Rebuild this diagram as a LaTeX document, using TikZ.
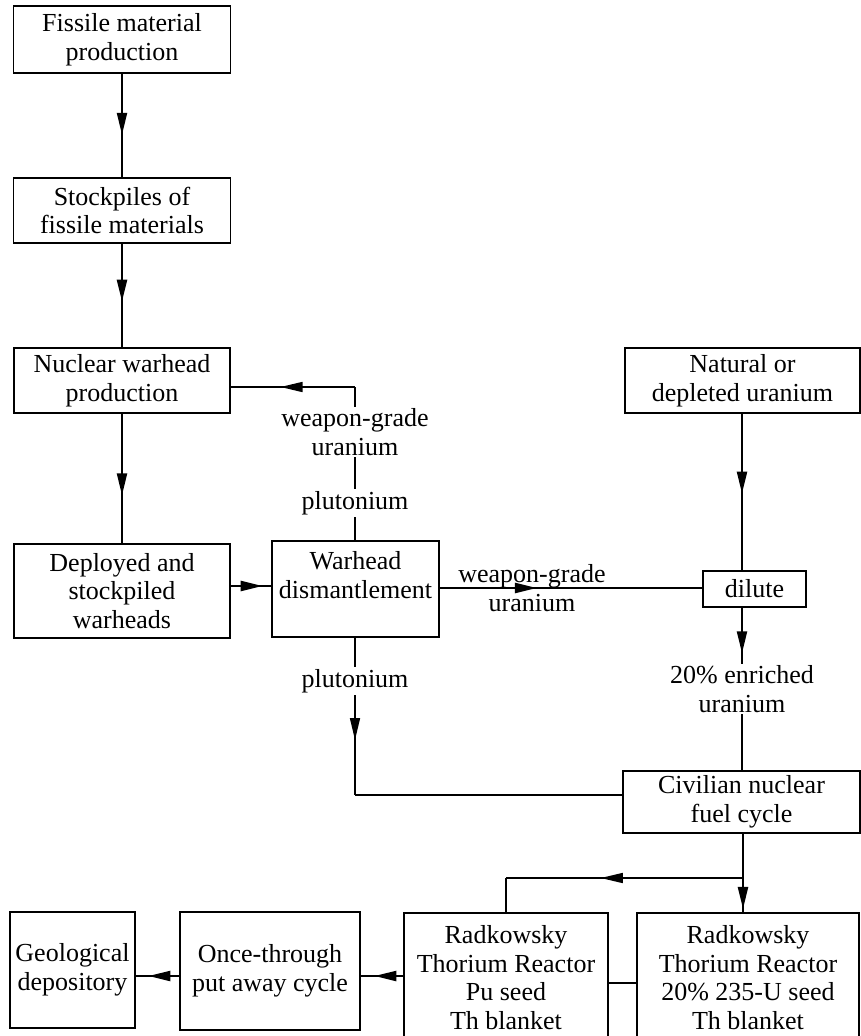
\documentclass[tikz,border=0pt]{standalone}
\usepackage{fontspec}
\setmainfont{Liberation Serif}
\usetikzlibrary{arrows.meta,decorations.markings}
\begin{document}
\begin{tikzpicture}[x=1pt,y=-1pt,
  box/.style={draw, line width=1.8pt, inner sep=0pt, align=center, font=\fontsize{26}{28.5}\selectfont},
  lbl/.style={inner sep=1.5pt, align=center, font=\fontsize{26}{28.5}\selectfont},
  flow/.style={line width=2.3pt},
  thinflow/.style={line width=1.6pt},
  tipat/.style={postaction={decorate}, decoration={markings, mark=at position #1 with {\arrow{Triangle[length=22pt,width=10pt]}}}}
]
\useasboundingbox (0,0) rectangle (861,1036);

% boxes
\node[box, minimum width=217pt, minimum height=67pt] (b1) at (122,39.5) {Fissile material\\production};
\node[box, minimum width=217pt, minimum height=65pt] (b2) at (122,210.5) {Stockpiles of\\fissile materials};
\node[box, minimum width=216pt, minimum height=65pt] (b3) at (122,380.5) {Nuclear warhead\\production};
\node[box, minimum width=216pt, minimum height=94pt] (b4) at (122,591) {Deployed and\\stockpiled\\warheads};
\node[box, minimum width=167pt, minimum height=96pt] (b5) at (355.5,589) {Warhead\\dismantlement\\\mbox{}};
\node[box, minimum width=235pt, minimum height=65pt] (nat) at (742.5,380.5) {Natural or\\depleted uranium};
\node[box, minimum width=103pt, minimum height=36pt] (dil) at (754.5,589) {dilute};
\node[box, minimum width=237pt, minimum height=62pt] (civ) at (741.5,802) {Civilian nuclear\\fuel cycle};
\node[box, minimum width=125pt, minimum height=116pt] (geo) at (72.5,970) {Geological\\depository};
\node[box, minimum width=180pt, minimum height=118pt] (once) at (270,971) {Once-through\\put away cycle};
\node[box, minimum width=204pt, minimum height=129pt] (r1) at (506,977.5) {Radkowsky\\Thorium Reactor\\Pu seed\\Th blanket};
\node[box, minimum width=222pt, minimum height=129pt] (r2) at (748,977.5) {Radkowsky\\Thorium Reactor\\20\% 235-U seed\\Th blanket};

% coordinates
\coordinate (fb) at (355,387);
\coordinate (pc) at (355,795);
\coordinate (br) at (743,878);
\coordinate (bl) at (506,878);

% main vertical flows
\draw[flow, tipat=0.59] (b1.south) -- (b2.north);
\draw[flow, tipat=0.56] (b2.south) -- (b3.north);
\draw[flow, tipat=0.63] (b3.south) -- (b4.north);
\draw[flow, tipat=0.79] (b4.east |- 0,586) -- (b5.west |- 0,586);

% feedback to warhead production
\draw[thinflow] (b5.north -| fb) -- (fb);
\draw[thinflow, tipat=0.6] (fb) -- (b3.east |- fb);

% weapon-grade uranium to dilute
\draw[flow, tipat=0.37] (b5.east |- 0,588) -- (dil.west |- 0,588);
\node[lbl] (wgu2) at (532,588) {weapon-grade\\uranium};

% natural to dilute
\draw[flow, tipat=0.51] (nat.south -| 742,0) -- (dil.north -| 742,0);

% dilute to civilian
\node[lbl] (enr) at (742,689) {20\% enriched\\uranium};
\draw[flow, tipat=0.81] (dil.south -| enr.north) -- (enr.north);
\draw[thinflow] (enr.south) -- (enr.south |- civ.north);

% plutonium to civilian
\draw[thinflow, tipat=0.65] (b5.south -| pc) -- (pc);
\draw[thinflow] (pc) -- (civ.west |- pc);

% labels on the vertical lines
\node[lbl, fill=white, inner sep=2pt] (wgu1) at (355,432) {weapon-grade\\uranium};
\node[lbl, fill=white, inner sep=2pt] (pu1) at (355,503) {plutonium};
\node[lbl, fill=white, inner sep=2pt] (pu2) at (355,681) {plutonium};

% civilian to reactors
\draw[flow, tipat=0.96] (civ.south -| br) -- (r2.north -| br);
\draw[thinflow, tipat=0.6] (br) -- (bl);
\draw[thinflow] (bl) -- (r1.north -| bl);

% bottom row
\draw[line width=2.8pt] (r2.west |- 0,983) -- (r1.east |- 0,983);
\draw[flow, tipat=0.68] (r1.west |- 0,976) -- (once.east |- 0,976);
\draw[flow, tipat=0.71] (once.west |- 0,976) -- (geo.east |- 0,976);
\end{tikzpicture}
\end{document}
